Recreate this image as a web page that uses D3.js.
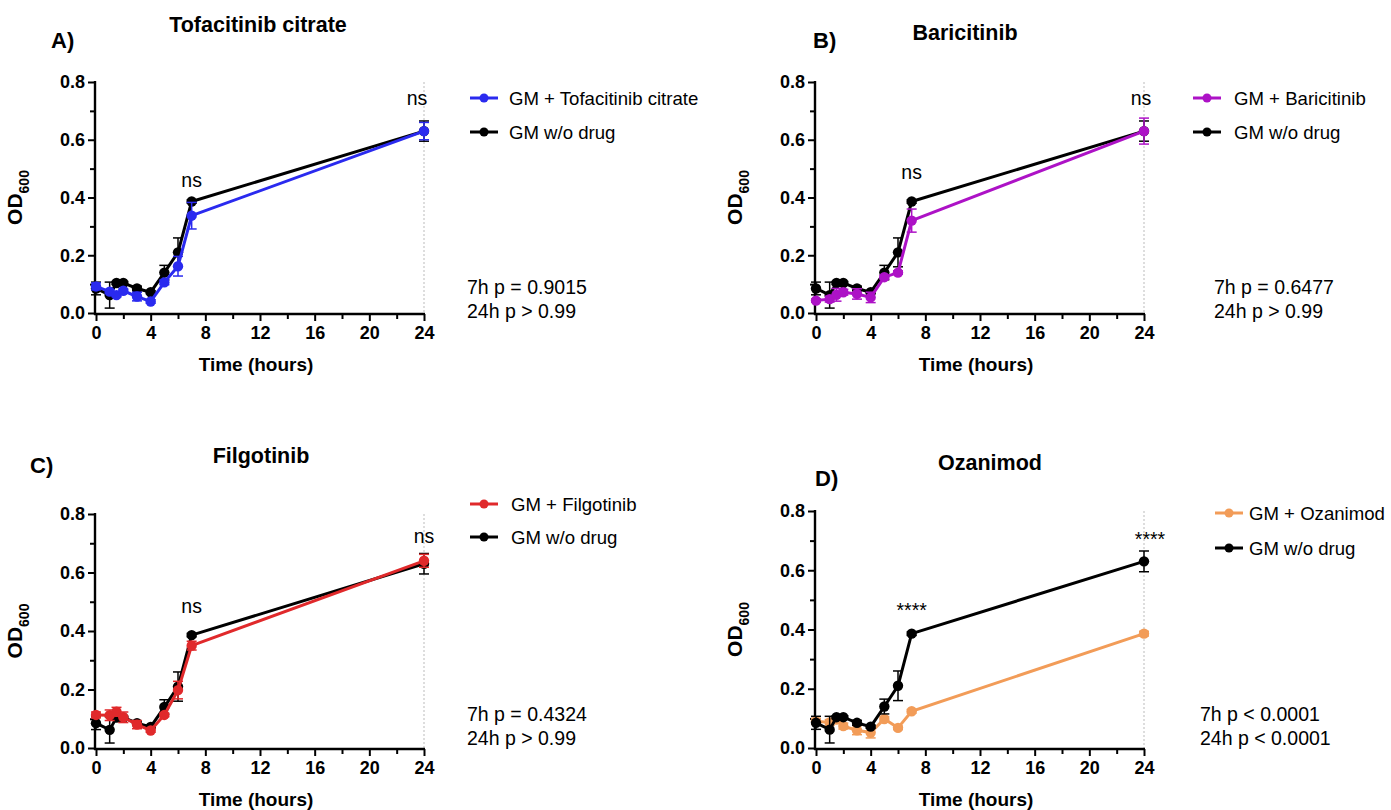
<!DOCTYPE html>
<html><head><meta charset="utf-8">
<script src="https://cdn.jsdelivr.net/npm/d3@7"></script>
<style>
body{margin:0;background:#fff;}
text{font-family:Arial,"Liberation Sans",Helvetica,sans-serif;}
</style></head>
<body>
<svg id="chart" width="1391" height="810"></svg>
<script>
const times = [0, 1, 1.5, 2, 3, 4, 5, 6, 7, 24];
const control    = [0.085, 0.062, 0.104, 0.104, 0.085, 0.072, 0.140, 0.210, 0.386, 0.630];
const controlErr = [0.022, 0.045, 0.005, 0.005, 0.008, 0.005, 0.025, 0.050, 0.006, 0.035];
const tofa    = [0.092, 0.074, 0.062, 0.077, 0.057, 0.040, 0.106, 0.162, 0.337, 0.630];
const tofaErr = [0.012, 0.006, 0.006, 0.006, 0.015, 0.006, 0.008, 0.034, 0.046, 0.030];
const bari    = [0.043, 0.048, 0.063, 0.072, 0.066, 0.054, 0.124, 0.140, 0.320, 0.630];
const bariErr = [0.006, 0.010, 0.022, 0.010, 0.018, 0.018, 0.006, 0.006, 0.040, 0.045];
const filgo    = [0.113, 0.112, 0.124, 0.105, 0.080, 0.060, 0.113, 0.198, 0.350, 0.640];
const filgoErr = [0.010, 0.018, 0.015, 0.018, 0.014, 0.006, 0.006, 0.030, 0.015, 0.022];
const ozan    = [0.090, 0.086, 0.096, 0.074, 0.060, 0.052, 0.098, 0.068, 0.124, 0.386];
const ozanErr = [0.010, 0.010, 0.006, 0.010, 0.015, 0.018, 0.008, 0.006, 0.006, 0.008];
const xTicks = [0, 4, 8, 12, 16, 20, 24];
const yTicks = [0, 0.2, 0.4, 0.6, 0.8];
const drugNames = ["Tofacitinib citrate", "Baricitinib", "Filgotinib", "Ozanimod"];
const panelLetters = ["A)", "B)", "C)", "D)"];
const pText7 = ["7h p = 0.9015", "7h p = 0.6477", "7h p = 0.4324", "7h p < 0.0001"];
const pText24 = ["24h p > 0.99", "24h p > 0.99", "24h p > 0.99", "24h p < 0.0001"];
const sig = ["ns", "ns", "ns", "****"];
const drugValues = [tofa, bari, filgo, ozan];
const drugErrors = [tofaErr, bariErr, filgoErr, ozanErr];
const colors = ["#2a2aef", "#ad12c6", "#e0292b", "#f29c58"];

// layout (positions only)
const layouts = [
  {x0:96, x1:424, y0:313, y1:82, letter:[51,48], title:[258,32], leg:[470,98,132], legText:509, ann:[467,294,318], sig7y:187, sig24y:105, sig24dx:-7, blackTop:false},
  {x0:816, x1:1144, y0:313, y1:82, letter:[813,48], title:[965,40], leg:[1193,98,132], legText:1234, ann:[1214,294,318], sig7y:179, sig24y:105, sig24dx:-3, blackTop:false},
  {x0:96, x1:424, y0:748, y1:514, letter:[30,473], title:[261,463], leg:[470,504,537], legText:511, ann:[467,721,745], sig7y:613, sig24y:543, sig24dx:0, blackTop:false},
  {x0:816, x1:1144, y0:748, y1:511, letter:[815,486], title:[990,470], leg:[1215,513,548], legText:1249, ann:[1200,721,745], sig7y:617, sig24y:546, sig24dx:6, blackTop:true}
];

const svg = d3.select("#chart");

layouts.forEach((L, i) => {
  const g = svg.append("g");
  const x = d3.scaleLinear().domain([0, 24]).range([L.x0, L.x1]);
  const y = d3.scaleLinear().domain([0, 0.8]).range([L.y0, L.y1]);

  // dotted line at 24h
  g.append("line").attr("x1", x(24)).attr("x2", x(24)).attr("y1", y(0.8)).attr("y2", y(0))
    .attr("stroke", "#bbb").attr("stroke-width", 1).attr("stroke-dasharray", "2,2");

  // axes
  const yAxis = d3.axisLeft(y).tickValues(yTicks).tickFormat(d3.format(".1f")).tickSize(7).tickPadding(3);
  const yMinor = d3.axisLeft(y).tickValues([0.1, 0.3, 0.5, 0.7]).tickFormat("").tickSize(5);
  const xAxis = d3.axisBottom(x).tickValues(xTicks).tickFormat(d3.format("d")).tickSize(7).tickPadding(5);
  const xMinor = d3.axisBottom(x).tickValues([2, 6, 10, 14, 18, 22]).tickFormat("").tickSize(5);

  const ya = g.append("g").attr("transform", `translate(${L.x0 - 1},0)`).call(yAxis);
  g.append("g").attr("transform", `translate(${L.x0 - 1},0)`).call(yMinor);
  const xa = g.append("g").attr("transform", `translate(0,${L.y0 + 1})`).call(xAxis);
  g.append("g").attr("transform", `translate(0,${L.y0 + 1})`).call(xMinor);
  g.selectAll(".tick line").attr("stroke", "#000").attr("stroke-width", 2);
  g.selectAll(".domain").remove();
  g.append("line").attr("x1", L.x0 - 1).attr("x2", L.x0 - 1).attr("y1", y(0.8) - 1).attr("y2", L.y0 + 2)
    .attr("stroke", "#000").attr("stroke-width", 2.4);
  g.append("line").attr("x1", L.x0 - 2).attr("x2", x(24) + 1).attr("y1", L.y0 + 1).attr("y2", L.y0 + 1)
    .attr("stroke", "#000").attr("stroke-width", 2.4);
  ya.selectAll("text").attr("font-size", 18).attr("font-weight", "bold").attr("fill", "#000");
  xa.selectAll("text").attr("font-size", 18).attr("font-weight", "bold").attr("fill", "#000");

  // axis titles
  g.append("text").attr("x", (L.x0 + L.x1) / 2 - 4).attr("y", L.y0 + 58).attr("text-anchor", "middle")
    .attr("font-size", 19).attr("font-weight", "bold").text("Time (hours)");
  const yl = g.append("text").attr("transform", `translate(${L.x0 - 74},${(L.y0 + L.y1) / 2}) rotate(-90)`)
    .attr("text-anchor", "middle").attr("font-size", 21).attr("font-weight", "bold");
  yl.append("tspan").text("OD");
  yl.append("tspan").attr("font-size", 14).attr("dy", 7).text("600");

  // letter & title
  g.append("text").attr("x", L.letter[0]).attr("y", L.letter[1]).attr("font-size", 22).attr("font-weight", "bold").text(panelLetters[i]);
  g.append("text").attr("x", L.title[0]).attr("y", L.title[1]).attr("text-anchor", "middle").attr("font-size", 21.5).attr("font-weight", "bold").text(drugNames[i]);

  // series
  const series = [
    {vals: drugValues[i], errs: drugErrors[i], color: colors[i]},
    {vals: control, errs: controlErr, color: "#000"}
  ];
  const order = L.blackTop ? [0, 1] : [1, 0];
  const line = d3.line().x((d, k) => x(times[k])).y(d => y(d));
  order.forEach(si => {
    const s = series[si];
    const sg = g.append("g");
    times.forEach((t, k) => {
      const cx = x(t), lo = y(s.vals[k] - s.errs[k]), hi = y(s.vals[k] + s.errs[k]);
      sg.append("line").attr("x1", cx).attr("x2", cx).attr("y1", lo).attr("y2", hi).attr("stroke", s.color).attr("stroke-width", 1.5);
      [lo, hi].forEach(yy => sg.append("line").attr("x1", cx - 5).attr("x2", cx + 5).attr("y1", yy).attr("y2", yy).attr("stroke", s.color).attr("stroke-width", 1.5));
    });
    sg.append("path").attr("d", line(s.vals)).attr("fill", "none").attr("stroke", s.color).attr("stroke-width", 3);
    sg.selectAll("circle").data(s.vals).enter().append("circle")
      .attr("cx", (d, k) => x(times[k])).attr("cy", d => y(d)).attr("r", 5.2).attr("fill", s.color);
  });

  // significance
  g.append("text").attr("x", x(7)).attr("y", L.sig7y).attr("text-anchor", "middle").attr("font-size", 19.5).text(sig[i]);
  g.append("text").attr("x", x(24) + L.sig24dx).attr("y", L.sig24y).attr("text-anchor", "middle").attr("font-size", 19.5).text(sig[i]);

  // legend
  const legItems = [{label: "GM + " + drugNames[i], color: colors[i]}, {label: "GM w/o drug", color: "#000"}];
  legItems.forEach((it, k) => {
    const ly = L.leg[1 + k];
    g.append("line").attr("x1", L.leg[0]).attr("x2", L.leg[0] + 28).attr("y1", ly).attr("y2", ly).attr("stroke", it.color).attr("stroke-width", 3);
    g.append("circle").attr("cx", L.leg[0] + 14).attr("cy", ly).attr("r", 4.5).attr("fill", it.color);
    g.append("text").attr("x", L.legText).attr("y", ly + 6.5).attr("font-size", 18.6).text(it.label);
  });

  // p-value annotations
  g.append("text").attr("x", L.ann[0]).attr("y", L.ann[1]).attr("font-size", 19.5).text(pText7[i]);
  g.append("text").attr("x", L.ann[0]).attr("y", L.ann[2]).attr("font-size", 19.5).text(pText24[i]);
});
</script>
</body></html>
